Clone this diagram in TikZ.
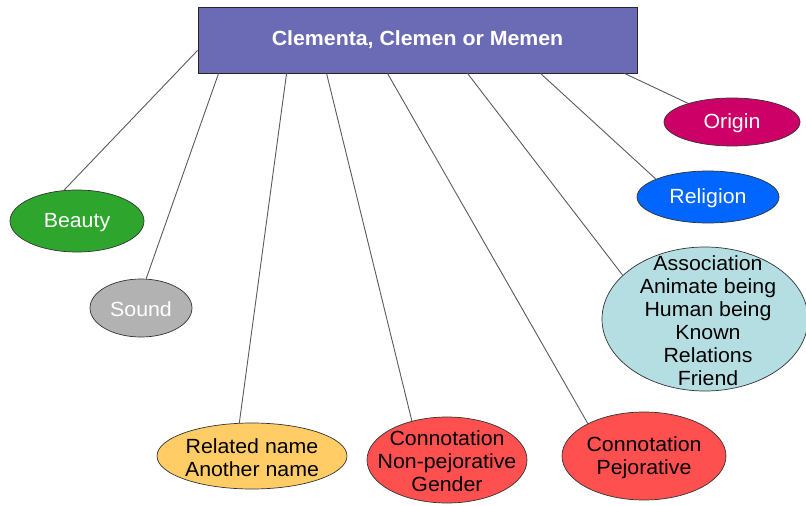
\documentclass[tikz,border=0pt]{standalone}
\usepackage{fontspec}
\setmainfont{Liberation Sans}[FakeStretch=1.04]
\usetikzlibrary{shapes.geometric,calc}
\definecolor{titlefill}{RGB}{107,107,181}
\definecolor{originfill}{RGB}{204,0,102}
\definecolor{religionfill}{RGB}{0,102,255}
\definecolor{beautyfill}{RGB}{46,166,46}
\definecolor{soundfill}{RGB}{178,178,178}
\definecolor{assocfill}{RGB}{180,222,225}
\definecolor{relatedfill}{RGB}{255,204,102}
\definecolor{connfill}{RGB}{255,80,80}
\definecolor{linkgray}{RGB}{90,90,90}
\begin{document}
\begin{tikzpicture}[x=1pt,y=-1pt,
  titlebox/.style={draw=black!85,line width=0.9pt,fill=titlefill,minimum width=439pt,minimum height=66pt,inner sep=0pt,
    font=\fontsize{20.5}{23}\selectfont\bfseries,text=white},
  blob/.style={ellipse,draw=black!80,line width=0.7pt,inner sep=0pt},
  lbl/.style={align=center,inner sep=0pt,yshift=-1.5pt,font=\fontsize{20.5}{23}\selectfont},
  link/.style={draw=linkgray,line width=0.9pt}]
\useasboundingbox (0,0) rectangle (806,506);

\node[titlebox] (title) at (417.5,40) {Clementa, Clemen or Memen};

\node[blob,fill=originfill,minimum width=136pt,minimum height=48pt] (origin) at (732,122) {};
\node[lbl,text=white] at (origin.center) {Origin};

\node[blob,fill=religionfill,minimum width=142pt,minimum height=52pt] (religion) at (708,197) {};
\node[lbl,text=white] at (religion.center) {Religion};

\node[blob,fill=beautyfill,minimum width=134pt,minimum height=62pt] (beauty) at (77,221) {};
\node[lbl,text=white] at (beauty.center) {Beauty};

\node[blob,fill=soundfill,minimum width=102pt,minimum height=58pt] (sound) at (141,308) {};
\node[lbl,text=white] at (sound.center) {Sound};

\node[blob,fill=assocfill,minimum width=206pt,minimum height=144pt] (assoc) at (705,319) {};
\node[lbl,text=black] at ($(assoc.center)+(3,0)$) {Association\\Animate being\\Human being\\Known\\Relations\\Friend};

\node[blob,fill=relatedfill,minimum width=190pt,minimum height=66pt] (related) at (252,456) {};
\node[lbl,text=black] at (related.center) {Related name\\Another name};

\node[blob,fill=connfill,minimum width=160pt,minimum height=86pt] (nonpej) at (447,460) {};
\node[lbl,text=black] at (nonpej.center) {Connotation\\Non-pejorative\\Gender};

\node[blob,fill=connfill,minimum width=164pt,minimum height=88pt] (pej) at (644,456) {};
\node[lbl,text=black] at (pej.center) {Connotation\\Pejorative};

% connectors from the title box to each topic
\draw[link] ($(title.south west)+(0,-23)$) -- (beauty.113);
\draw[link] ($(title.south west)+(21,0)$) -- (sound.80);
\draw[link] ($(title.south west)+(89,0)$) -- (related.111);
\draw[link] ($(title.south west)+(129,0)$) -- (nonpej.132);
\draw[link] ($(title.south west)+(190,0)$) -- (pej.150);
\draw[link] ($(title.south west)+(270,0)$) -- (assoc.152);
\draw[link] ($(title.south west)+(343,0)$) -- (religion.161);
\draw[link] ($(title.south west)+(427,0)$) -- (origin.157);
\end{tikzpicture}
\end{document}
